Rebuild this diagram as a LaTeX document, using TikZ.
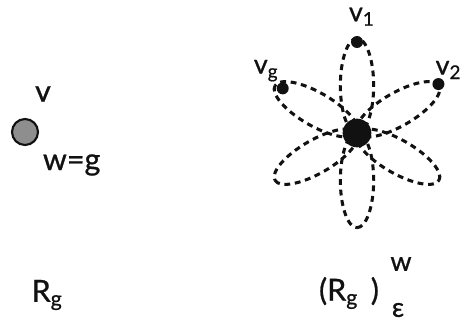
\documentclass[tikz,border=0pt]{standalone}
\usepackage{fontspec}
\setmainfont{Lato}[FakeBold=0.8]
\usepackage{xcolor}
\usetikzlibrary{positioning,calc}
\definecolor{ink}{HTML}{111111}
\definecolor{dotgray}{HTML}{8e8e8e}
\tikzset{
  every node/.style={font=\fontsize{26}{30}\selectfont, text=ink},
  lbl/.style={inner sep=0pt},
  smalllbl/.style={inner sep=0pt, font=\fontsize{23}{27}\selectfont},
  single/.style={circle, draw=ink, fill=dotgray, line width=1.8pt, minimum size=0.78cm, inner sep=0pt},
  hub/.style={circle, fill=ink, minimum size=0.86cm, inner sep=0pt},
  tip/.style={circle, fill=ink, minimum size=0.36cm, inner sep=0pt},
  petal/.style={draw=ink, line width=2.6pt, dash pattern=on 5pt off 4pt},
}
\begin{document}
\begin{tikzpicture}
  \useasboundingbox (0,0) rectangle (13.89,9.72);
  % left: one vertex
  \node[single] (s) at (0.75,5.76) {};
  \node[lbl] (sv) at (1.29,6.90) {v};
  \node[lbl] (sw) at (2.15,4.77) {w=g};
  \node[lbl] (rg) at (1.41,0.87) {R\textsubscript{g}};
  % right: the flower
  \coordinate (c) at (10.71,5.73);
  \foreach \a in {90,30,-30,-90,-150,150}
    \draw[petal, shift={(c)}, rotate=\a] (1.42,0) ellipse [x radius=1.42, y radius=0.5];
  \node[hub] (h) at (c) {};
  \node[tip] (t1) at ($(c)+(90:2.73)$) {};
  \node[tip] (t2) at ($(c)+(31:2.85)$) {};
  \node[tip] (tg) at ($(c)+(149:2.6)$) {};
  \node[smalllbl] (v1) at (10.85,9.22) {v\textsubscript{1}};
  \node[smalllbl] (v2) at (13.45,7.62) {v\textsubscript{2}};
  \node[smalllbl] (vg) at (7.98,7.60) {v\textsubscript{g}};
  \node[lbl] (rw) at (10.47,0.93) {(R\textsubscript{g}\, )};
  \node[smalllbl] (w) at (12.03,1.80) {w};
  \node[smalllbl] (eps) at (11.94,0.42) {ε};
\end{tikzpicture}
\end{document}
